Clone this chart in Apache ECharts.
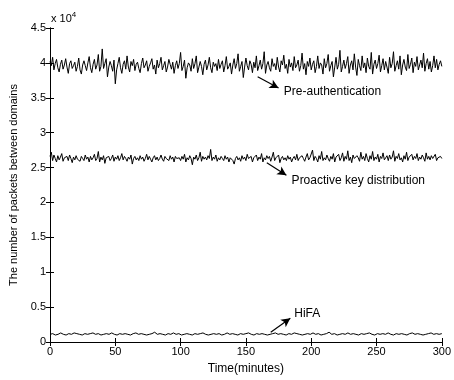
<!DOCTYPE html>
<html><head><meta charset="utf-8">
<script src="https://cdn.jsdelivr.net/npm/echarts@6/dist/echarts.min.js"></script>
<style>html,body{margin:0;padding:0;background:#fff}#c{width:454px;height:380px}</style>
</head><body><div id="c"></div>
<script>
// values in units of 10^4 packets, one per minute (0..300)
var preAuth = [
4.02,3.96,4.08,3.90,3.99,4.05,3.93,3.87,3.98,4.04,3.91,3.97,4.06,3.94,3.85,3.99,4.03,3.92,3.96,4.01,
3.88,3.95,4.07,3.90,3.84,3.97,4.03,3.96,3.89,4.00,4.09,3.93,3.86,3.98,4.05,3.91,3.97,4.12,3.88,3.95,
4.20,3.92,3.99,4.06,3.80,3.94,4.02,3.96,3.88,4.04,3.70,3.90,3.99,4.08,3.93,3.85,3.98,4.03,3.91,4.10,
3.94,3.87,4.02,3.96,4.05,3.89,3.98,4.01,3.92,3.86,3.99,4.07,3.93,3.97,4.03,3.88,3.95,4.00,4.06,3.91,
3.97,3.84,4.04,3.93,3.99,4.08,3.90,3.96,4.02,3.87,3.94,4.05,3.98,3.91,4.01,3.85,3.96,4.03,3.92,3.99,
4.15,3.89,3.95,4.04,3.78,3.93,4.00,3.97,3.88,4.06,3.92,3.99,4.10,3.86,3.94,4.02,3.95,3.83,3.98,4.04,
3.90,3.97,4.08,3.93,3.86,4.01,3.95,3.99,3.89,4.05,3.92,3.98,4.03,3.87,3.96,4.09,3.91,3.95,4.00,3.84,
3.97,4.06,3.92,3.99,4.13,3.88,3.95,4.02,3.79,3.94,4.07,3.96,3.90,4.03,3.98,3.86,4.01,3.93,4.10,3.89,
3.96,4.04,3.91,3.99,4.16,3.85,3.97,4.02,3.93,3.88,4.06,3.95,3.99,3.90,4.08,3.94,3.87,4.03,3.97,4.11,
3.92,3.98,3.85,4.05,3.94,4.00,3.89,4.09,3.93,3.97,4.04,3.88,3.96,4.14,3.91,3.99,3.83,4.02,3.95,4.07,
3.90,3.98,4.03,3.86,3.95,4.10,3.92,4.00,3.97,3.84,4.06,3.93,3.99,4.12,3.88,3.96,4.02,3.80,3.94,4.08,
3.91,3.98,4.18,3.87,3.95,4.04,3.92,3.99,4.09,3.85,3.97,4.03,3.90,4.13,3.94,3.82,4.05,3.96,3.89,4.10,
3.93,4.00,3.86,4.07,3.95,3.91,4.15,3.84,3.98,4.04,3.92,3.99,4.11,3.87,3.96,4.06,3.90,4.02,3.94,3.85,
4.08,3.93,3.99,4.16,3.88,3.96,4.03,3.91,4.10,3.83,3.97,4.05,3.94,3.89,4.12,3.92,3.98,4.07,3.86,4.01,
3.95,4.09,3.90,3.97,4.04,3.93,4.14,3.88,3.99,4.06,3.91,4.02,3.87,3.96,4.10,3.93,4.05,3.90,3.98,4.03,3.95];
var proactive = [
2.66,2.72,2.60,2.68,2.63,2.58,2.67,2.61,2.65,2.70,2.59,2.64,2.62,2.66,2.60,2.68,2.63,2.57,2.65,2.61,
2.67,2.62,2.64,2.59,2.66,2.63,2.60,2.68,2.62,2.65,2.58,2.66,2.61,2.64,2.69,2.60,2.63,2.73,2.58,2.65,
2.61,2.67,2.56,2.64,2.62,2.66,2.60,2.63,2.68,2.59,2.65,2.62,2.67,2.60,2.64,2.70,2.61,2.66,2.63,2.59,
2.65,2.62,2.68,2.55,2.63,2.66,2.61,2.64,2.60,2.67,2.62,2.65,2.59,2.63,2.69,2.61,2.66,2.62,2.58,2.64,
2.67,2.61,2.65,2.60,2.63,2.68,2.62,2.59,2.66,2.63,2.64,2.60,2.67,2.62,2.65,2.58,2.66,2.63,2.61,2.64,
2.60,2.66,2.62,2.69,2.58,2.64,2.61,2.67,2.63,2.54,2.65,2.62,2.68,2.60,2.64,2.72,2.59,2.66,2.62,2.65,
2.61,2.67,2.63,2.76,2.60,2.65,2.62,2.68,2.59,2.64,2.61,2.66,2.63,2.60,2.67,2.62,2.65,2.58,2.64,2.62,
2.60,2.55,2.63,2.66,2.61,2.64,2.59,2.67,2.62,2.65,2.60,2.69,2.63,2.61,2.66,2.58,2.64,2.62,2.68,2.60,
2.65,2.62,2.70,2.58,2.64,2.61,2.67,2.63,2.66,2.59,2.65,2.72,2.60,2.64,2.62,2.68,2.57,2.63,2.66,2.61,
2.64,2.60,2.67,2.62,2.65,2.58,2.63,2.66,2.61,2.69,2.60,2.64,2.62,2.67,2.63,2.59,2.65,2.70,2.61,2.64,
2.62,2.75,2.60,2.66,2.63,2.58,2.67,2.62,2.73,2.60,2.64,2.61,2.68,2.63,2.59,2.66,2.62,2.70,2.58,2.65,
2.63,2.69,2.60,2.64,2.71,2.59,2.66,2.62,2.74,2.60,2.65,2.57,2.68,2.63,2.61,2.67,2.64,2.59,2.72,2.62,
2.66,2.60,2.70,2.63,2.58,2.67,2.62,2.73,2.60,2.65,2.62,2.69,2.58,2.66,2.63,2.71,2.61,2.64,2.67,2.60,
2.68,2.62,2.65,2.74,2.59,2.66,2.63,2.70,2.61,2.64,2.58,2.67,2.62,2.72,2.60,2.65,2.63,2.69,2.61,2.66,
2.63,2.70,2.60,2.65,2.62,2.68,2.64,2.59,2.71,2.62,2.66,2.61,2.67,2.63,2.65,2.69,2.60,2.64,2.62,2.66,2.63];
var hifa = [0.11,0.12,0.10,0.11,0.13,0.11,0.10,0.12,0.11,0.13,0.12,0.11,0.10,0.12,0.11,0.12,0.13,0.11,0.12,0.10,0.11,0.12,0.11,0.13,0.11,0.10,0.12,0.11,0.12,0.11,0.10,0.12,0.13,0.11,0.12,0.11,0.10,0.11,0.12,0.14,0.11,0.12,0.11,0.10,0.12,0.11,0.13,0.11,0.12,0.10,0.11,0.12,0.11,0.10,0.12,0.11,0.12,0.13,0.11,0.10,0.11,0.12,0.11,0.12,0.10,0.11,0.13,0.11,0.12,0.11,0.10,0.12,0.11,0.12,0.13,0.11,0.10,0.12,0.11,0.12,0.11,0.10,0.11,0.12,0.13,0.11,0.12,0.11,0.10,0.12,0.11,0.13,0.12,0.11,0.10,0.11,0.12,0.11,0.13,0.11,0.12,0.10,0.11,0.12,0.14,0.11,0.12,0.10,0.11,0.12,0.11,0.13,0.11,0.12,0.11,0.10,0.12,0.11,0.12,0.13,0.11,0.10,0.12,0.11,0.12,0.11,0.13,0.11,0.10,0.12,0.11,0.12,0.11,0.10,0.12,0.13,0.11,0.12,0.11,0.10,0.11,0.12,0.13,0.11,0.12,0.11,0.12];
var seriesNames = ['Pre-authentication','Proactive key distribution','HiFA'];
var xTicks = [0,50,100,150,200,250,300];
var yTicks = [0,0.5,1,1.5,2,2.5,3,3.5,4,4.5];
// annotation arrows: [startX, startY, endX, endY] in data units
var arrows = [[159,3.80,175,3.64],[166,2.57,181,2.39],[169,0.14,184,0.34]];
var labelPos = [[179,3.59],[185,2.31],[187,0.40]];

function pairs(arr){ var n=arr.length, out=[]; for(var i=0;i<n;i++) out.push([i*300/(n-1), arr[i]]); return out; }
var font = 'Liberation Sans, Arial, sans-serif';
var chart = echarts.init(document.getElementById('c'));
var allData = [preAuth, proactive, hifa];
var series = allData.map(function(d,k){
  return {
    type:'line', name:seriesNames[k], data:pairs(d), symbol:'none', animation:false,
    lineStyle:{color:'#000', width:1},
    markLine:{silent:true, symbol:['none','arrow'], symbolSize:[7,9], animation:false,
      lineStyle:{color:'#000', width:1.2, type:'solid'}, label:{show:false},
      data:[[{coord:[arrows[k][0],arrows[k][1]]},{coord:[arrows[k][2],arrows[k][3]]}]]},
    markPoint:{silent:true, symbol:'circle', symbolSize:0, animation:false,
      label:{show:true, position:'right', distance:0, color:'#000', fontSize:12, fontFamily:font, formatter:seriesNames[k]},
      data:[{coord:labelPos[k]}]}
  };
});
var axLine = {show:true, lineStyle:{color:'#000', width:1}};
var tick = {show:true, inside:true, length:4, lineStyle:{color:'#000', width:1}};
chart.setOption({
  animation:false,
  backgroundColor:'#fff',
  title:{text:'x 10{s|4}', left:46, top:6, textStyle:{fontSize:11, fontWeight:'normal', color:'#000', fontFamily:font, rich:{s:{fontSize:8, verticalAlign:'top', padding:[0,0,8,0], fontFamily:font}}}},
  grid:{left:48, right:10, top:28, bottom:37},
  xAxis:[{type:'value', min:0, max:300, interval:50, position:'bottom',
      name:'Time(minutes)', nameLocation:'middle', nameGap:21, nameTextStyle:{fontSize:12, color:'#000', fontFamily:font},
      axisLine:axLine, axisTick:tick,
      axisLabel:{color:'#000', fontSize:11, fontFamily:font, margin:4}, splitLine:{show:false}},
    {type:'value', min:0, max:300, interval:50, position:'top', axisLine:axLine,
      axisTick:tick, axisLabel:{show:false}, splitLine:{show:false}}],
  yAxis:[{type:'value', min:0, max:4.5, interval:0.5, position:'left',
      name:'The number of packets between domains', nameLocation:'middle', nameGap:31, nameRotate:90,
      nameTextStyle:{fontSize:11, color:'#000', fontFamily:font},
      axisLine:axLine, axisTick:tick,
      axisLabel:{color:'#000', fontSize:11, fontFamily:font, margin:4, formatter:function(v){return String(v);}}, splitLine:{show:false}},
    {type:'value', min:0, max:4.5, interval:0.5, position:'right', axisLine:axLine,
      axisTick:tick, axisLabel:{show:false}, splitLine:{show:false}}],
  series: series
});
</script></body></html>
